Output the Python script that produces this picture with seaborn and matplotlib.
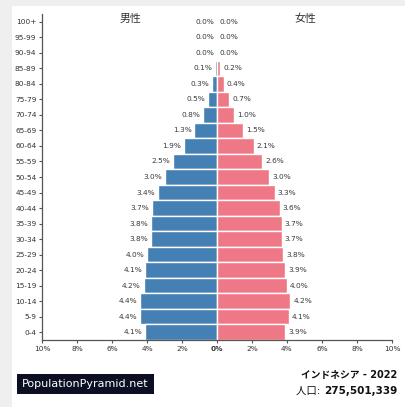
import numpy as np
import pandas as pd
import matplotlib
matplotlib.use("Agg")
import matplotlib.pyplot as plt
from matplotlib.patches import Rectangle
import seaborn as sns

# 年齢層 (下から上へ)
ages = ['0-4', '5-9', '10-14', '15-19', '20-24', '25-29', '30-34', '35-39',
        '40-44', '45-49', '50-54', '55-59', '60-64', '65-69', '70-74',
        '75-79', '80-84', '85-89', '90-94', '95-99', '100+']
male = [4.1, 4.4, 4.4, 4.2, 4.1, 4.0, 3.8, 3.8, 3.7, 3.4, 3.0, 2.5, 1.9,
        1.3, 0.8, 0.5, 0.3, 0.1, 0.0, 0.0, 0.0]
female = [3.9, 4.1, 4.2, 4.0, 3.9, 3.8, 3.7, 3.7, 3.6, 3.3, 3.0, 2.6, 2.1,
          1.5, 1.0, 0.7, 0.4, 0.2, 0.0, 0.0, 0.0]
sexes = ['男性', '女性']
xticks = [-10, -8, -6, -4, -2, 0, 2, 4, 6, 8, 10]
country_title = 'インドネシア - 2022'
pop_label = '人口: '
pop_value = '275,501,339'
brand = 'PopulationPyramid.net'

blue = '#4480b4'
pink = '#ef7886'

sns.set_theme(style='white')
plt.rcParams['font.family'] = ['DejaVu Sans', 'Noto Sans CJK JP']

df = pd.DataFrame({
    'age': ages * 2,
    'value': [-v for v in male] + female,
    'sex': [sexes[0]] * len(ages) + [sexes[1]] * len(ages),
})
order = ages[::-1]

fig = plt.figure(figsize=(4.06, 4.07), dpi=100, facecolor='#efefef')
fig.patches.append(Rectangle((12 / 406, 0), 1, 1 - 6 / 407, transform=fig.transFigure,
                             facecolor='white', edgecolor='none', zorder=-5))
ax = fig.add_axes([42 / 406, 1 - 340 / 407, 350 / 406, 326 / 407])
ax.set_facecolor('none')

sns.barplot(data=df, x='value', y='age', hue='sex', order=order,
            hue_order=sexes, palette=[blue, pink], dodge=False, width=1.0,
            saturation=1, edgecolor='white', linewidth=1.0, orient='h',
            ax=ax, legend=False)

# 数値ラベル: 男性は棒の左、女性は棒の右
for cont, vals, side in zip(ax.containers, [male[::-1], female[::-1]], [-1, 1]):
    for bar, v in zip(cont.patches, vals):
        yc = bar.get_y() + bar.get_height() / 2
        ax.annotate(f'{v:.1f}%', (side * v, yc), xytext=(side * 2, 0),
                    textcoords='offset points', va='center',
                    ha='right' if side < 0 else 'left',
                    fontsize=5.3, color='#3a3a3a')

ax.set_xlim(-10, 10)
ax.set_ylim(len(ages) - 0.5, -0.5)
ax.set_xticks(xticks)
ax.set_xticklabels([f'{abs(t)}%' for t in xticks])
for lab, t in zip(ax.get_xticklabels(), xticks):
    if t == 0:
        lab.set_fontweight('bold')
ax.set_xlabel('')
ax.set_ylabel('')
ax.tick_params(axis='both', labelsize=5.3, labelcolor='#333333', length=2.5,
               width=0.8, color='#555555', pad=1.5, left=True, bottom=True)
sns.despine(ax=ax, top=True, right=True)
for s in ['left', 'bottom']:
    ax.spines[s].set_color('#555555')
    ax.spines[s].set_linewidth(0.9)

cjk = ['Noto Sans CJK JP', 'DejaVu Sans']
fig.text(130 / 406, 1 - 19 / 407, sexes[0], ha='center', va='center',
         fontsize=7.8, color='#333333', family=cjk)
fig.text(305 / 406, 1 - 19 / 407, sexes[1], ha='center', va='center',
         fontsize=7.8, color='#333333', family=cjk)

fig.text(22 / 406, 1 - 384 / 407, brand, ha='left', va='center', fontsize=8,
         color='white',
         bbox=dict(boxstyle='square,pad=0.45', facecolor='#0c0f24',
                   edgecolor='none'))

fig.text(397 / 406, 1 - 375 / 407, country_title, ha='right', va='center',
         fontsize=7, fontweight='bold', color='#111111')
num = fig.text(397 / 406, 1 - 391 / 407, pop_value, ha='right', va='center',
               fontsize=7.5, fontweight='bold', color='#111111')
r = fig.canvas.get_renderer()
bb = num.get_window_extent(renderer=r)
fig.text(bb.x0 / fig.bbox.width, 1 - 391 / 407, pop_label, ha='right',
         va='center', fontsize=7.5, color='#111111')

fig.savefig('out.png', dpi=100, facecolor=fig.get_facecolor())
